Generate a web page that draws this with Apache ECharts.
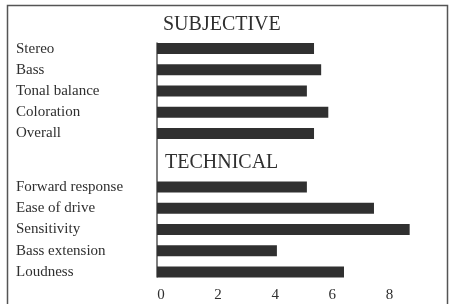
<!DOCTYPE html>
<html>
<head>
<meta charset="utf-8">
<script src="https://cdn.jsdelivr.net/npm/echarts@6/dist/echarts.min.js"></script>
<style>
  html, body { margin: 0; padding: 0; background: #fff; }
  #chart { width: 451px; height: 304px; }
</style>
</head>
<body>
<div id="chart"></div>
<script>
// Scores (0-10 scale)
const subjectiveLabels = ['Stereo', 'Bass', 'Tonal balance', 'Coloration', 'Overall'];
const subjectiveValues = [5.5, 5.75, 5.25, 6.0, 5.5];
const technicalLabels = ['Forward response', 'Ease of drive', 'Sensitivity', 'Bass extension', 'Loudness'];
const technicalValues = [5.25, 7.6, 8.85, 4.2, 6.55];
const xTicks = [0, 2, 4, 6, 8];

const FONT = '"Liberation Serif", "DejaVu Serif", serif';
const INK = '#2f2f2f';
const BAR = '#303030';

const chart = echarts.init(document.getElementById('chart'));

// both panels share the same x scale (0..10)
const xBase = {
  type: 'value',
  min: 0,
  max: 10,
  interval: 2,
  axisLine: { show: false },
  axisTick: { show: false },
  splitLine: { show: false },
};

const yBase = (labels) => ({
  type: 'category',
  data: labels,
  inverse: true,
  axisLine: { show: false },
  axisTick: { show: false },
  axisLabel: {
    align: 'left',
    margin: 141,
    color: INK,
    fontFamily: FONT,
    fontSize: 15,
  },
});

chart.setOption({
  animation: false,
  title: [
    {
      text: 'SUBJECTIVE',
      left: 163,
      top: 15,
      padding: 0,
      textStyle: { fontFamily: FONT, fontSize: 20, fontWeight: 'normal', color: INK },
    },
    {
      text: 'TECHNICAL',
      left: 165,
      top: 153,
      padding: 0,
      textStyle: { fontFamily: FONT, fontSize: 20, fontWeight: 'normal', color: INK },
    },
  ],
  graphic: [
    {
      // outer frame, open at the bottom edge of the picture
      type: 'rect',
      shape: { x: 7.5, y: 5.5, width: 440, height: 320 },
      style: { fill: 'none', stroke: '#555', lineWidth: 1.5 },
      silent: true,
    },
  ],
  grid: [
    { left: 157, width: 285.5, top: 38, height: 106 },
    { left: 157, width: 285.5, top: 176.5, height: 106 },
    // thin grid used only for the continuous baseline
    { left: 157, width: 285.5, top: 43, height: 234 },
  ],
  xAxis: [
    Object.assign({}, xBase, { gridIndex: 0, axisLabel: { show: false } }),
    Object.assign({}, xBase, {
      gridIndex: 1,
      axisLabel: {
        show: true,
        margin: 5,
        showMaxLabel: false,
        color: INK,
        fontFamily: FONT,
        fontSize: 15,
        padding: [0, 0, 0, 8],
        formatter: (v) => (xTicks.indexOf(v) >= 0 ? String(v) : ''),
      },
    }),
    Object.assign({}, xBase, { gridIndex: 2, show: false }),
  ],
  yAxis: [
    Object.assign(yBase(subjectiveLabels), { gridIndex: 0 }),
    Object.assign(yBase(technicalLabels), { gridIndex: 1 }),
    {
      gridIndex: 2,
      type: 'value',
      min: 0,
      max: 1,
      axisLine: { show: true, lineStyle: { color: '#555', width: 1.5 } },
      axisTick: { show: false },
      axisLabel: { show: false },
      splitLine: { show: false },
    },
  ],
  series: [
    {
      name: 'Subjective',
      type: 'bar',
      xAxisIndex: 0,
      yAxisIndex: 0,
      data: subjectiveValues,
      barWidth: 11,
      itemStyle: { color: BAR },
    },
    {
      name: 'Technical',
      type: 'bar',
      xAxisIndex: 1,
      yAxisIndex: 1,
      data: technicalValues,
      barWidth: 11,
      itemStyle: { color: BAR },
    },
  ],
});
</script>
</body>
</html>
